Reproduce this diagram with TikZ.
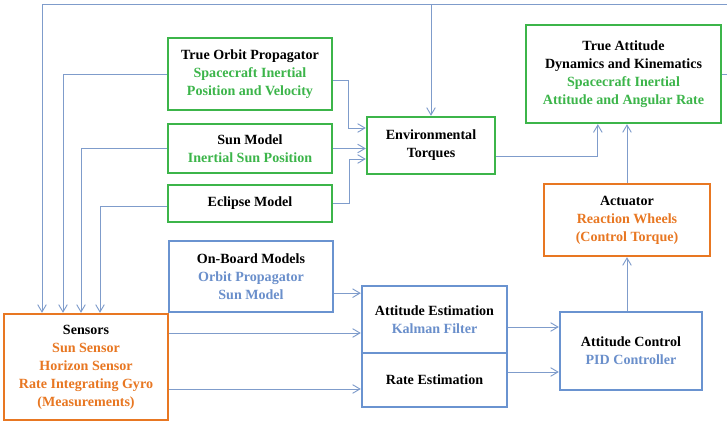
\documentclass[tikz,border=0pt]{standalone}
\usepackage{fontspec, xcolor, tikz}
\usetikzlibrary{arrows.meta}
\setmainfont{Liberation Serif}
\definecolor{simgreen}{HTML}{3CB54A}
\definecolor{hwOrange}{HTML}{E87722}
\definecolor{fswblue}{HTML}{6A93D0}
\definecolor{fswtext}{HTML}{6A8FCB}
\definecolor{linkblue}{HTML}{7F9CCB}

\begin{document}
\begin{tikzpicture}[
    font=\fontsize{12}{15.3}\selectfont\bfseries,
    simbox/.style={rectangle, draw=simgreen, line width=2pt, fill=white,
                   align=center, inner sep=2pt, minimum width=4.92cm},
    hwbox/.style={simbox, draw=hwOrange},
    fswbox/.style={simbox, draw=fswblue},
    link/.style={line width=0.8pt, draw=linkblue},
    arrow/.style={link, -{Straight Barb[length=2.2mm, width=2.6mm]}}
  ]
    \useasboundingbox (0,0) rectangle (21.81,12.66);

    % Truth models (green)
    \node[simbox, minimum height=2.16cm] (orbit) at (7.50, 10.44)
      {True Orbit Propagator\\\color{simgreen}Spacecraft Inertial\\\color{simgreen}Position and Velocity};
    \node[simbox, minimum height=1.47cm] (sun) at (7.50, 8.205)
      {Sun Model\\\color{simgreen}Inertial Sun Position};
    \node[simbox, minimum height=1.11cm] (eclipse) at (7.50, 6.555) {Eclipse Model};
    \node[simbox, minimum width=3.84cm, minimum height=1.71cm] (env) at (12.93, 8.295)
      {Environmental\\Torques};
    \node[simbox, minimum width=5.85cm, minimum height=2.94cm] (truatt) at (18.705, 10.44)
      {True Attitude\\Dynamics and Kinematics\\\color{simgreen}Spacecraft Inertial\\\color{simgreen}Attitude and Angular Rate};

    % Hardware (orange)
    \node[hwbox, minimum width=4.98cm, minimum height=2.16cm] (actuator) at (18.81, 6.06)
      {Actuator\\\color{hwOrange}Reaction Wheels\\\color{hwOrange}(Control Torque)};
    \node[hwbox, minimum height=3.18cm] (sensors) at (2.58, 1.65)
      {Sensors\\\color{hwOrange}Sun Sensor\\\color{hwOrange}Horizon Sensor\\\color{hwOrange}Rate Integrating Gyro\\\color{hwOrange}(Measurements)};

    % Flight software (blue)
    \node[fswbox, minimum height=2.13cm] (onboard) at (7.53, 4.365)
      {On-Board Models\\\color{fswtext}Orbit Propagator\\\color{fswtext}Sun Model};
    \node[fswbox, minimum width=4.35cm, minimum height=2.01cm] (estim) at (13.035, 3.075)
      {Attitude Estimation\\\color{fswtext}Kalman Filter};
    \node[fswbox, minimum width=4.35cm, minimum height=1.62cm] (rate) at (13.035, 1.26)
      {Rate Estimation};
    \node[fswbox, minimum width=4.26cm, minimum height=2.34cm] (control) at (18.93, 2.13)
      {Attitude Control\\\color{fswtext}PID Controller};

    % Inputs to the environmental torques
    \coordinate (o1) at ([yshift=-0.18cm]orbit.east);
    \coordinate (t1) at ([yshift=0.525cm]env.west);
    \coordinate (t3) at ([yshift=-0.405cm]env.west);
    \draw[arrow] (o1) -- ++(0.45,0) |- (t1);
    \draw[arrow] (sun.east) -- (sun.east -| env.west);
    \draw[arrow] (eclipse.east) -- ++(0.48,0) |- (t3);
    \draw[arrow] ([yshift=-0.32cm]env.east) -| ([xshift=-0.77cm]truatt.south);

    % Actuation chain
    \draw[arrow] (actuator.north) -- (actuator.north |- truatt.south);
    \draw[arrow] ([xshift=-0.12cm]control.north) -- ([xshift=-0.12cm]control.north |- actuator.south);

    % Truth state fed back to sensors and torques
    \coordinate (topright) at (22.2, 12.52);
    \draw[arrow] (truatt.east) -| (topright) -| ([xshift=-1.32cm]sensors.north);
    \draw[arrow] (env.north |- topright) -- (env.north);
    \draw[arrow] (orbit.west) -| ([xshift=-0.69cm]sensors.north);
    \draw[arrow] (sun.west) -| ([xshift=-0.15cm]sensors.north);
    \draw[arrow] ([yshift=-0.1cm]eclipse.west) -| ([xshift=0.42cm]sensors.north);

    % Measurements into the estimators
    \coordinate (m1) at ([yshift=-0.5cm]onboard.east);
    \coordinate (s1) at ([yshift=1.02cm]sensors.east);
    \coordinate (s2) at ([yshift=-0.66cm]sensors.east);
    \draw[arrow] (m1) -- (m1 -| estim.west);
    \draw[arrow] (s1) -- (s1 -| estim.west);
    \draw[arrow] (s2) -- (s2 -| rate.west);

    % Estimates into the controller
    \coordinate (e1) at ([yshift=-0.225cm]estim.east);
    \coordinate (r1) at ([yshift=0.24cm]rate.east);
    \draw[arrow] (e1) -- (e1 -| control.west);
    \draw[arrow] (r1) -- (r1 -| control.west);
  \end{tikzpicture}
\end{document}
